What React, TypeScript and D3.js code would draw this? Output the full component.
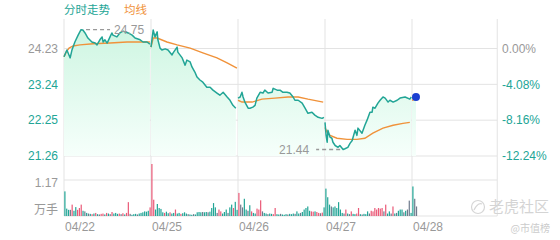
import React from 'react';
import * as d3 from 'd3';

const dayLabels = ['04/22', '04/25', '04/26', '04/27', '04/28'];
const priceTicks = [24.23, 23.24, 22.25, 21.26];
const pctTicks = ['0.00%', '-4.08%', '-8.16%', '-12.24%'];
const prevClose = 24.23;
const volTick = 1.17;

// [minute of session, price]
const day1Price: [number, number][] = [[0,24.00],[8,24.19],[17,23.97],[22,24.19],[30,24.41],[39,24.60],[47,24.75],[52,24.74],[58,24.66],[66,24.52],[77,24.41],[86,24.38],[91,24.33],[99,24.47],[105,24.55],[108,24.41],[113,24.47],[119,24.38],[127,24.55],[132,24.66],[135,24.60],[146,24.55],[154,24.66],[163,24.71],[168,24.69],[177,24.66],[188,24.60],[196,24.52],[210,24.47],[218,24.41],[229,24.41],[237,24.35]];
const day1Avg: [number, number][] = [[0,24.00],[6,24.13],[14,24.24],[25,24.30],[44,24.33],[80,24.36],[127,24.38],[174,24.41],[237,24.41]];
const day2Price: [number, number][] = [[0,24.27],[6,24.74],[11,24.55],[17,24.69],[19,24.47],[25,24.24],[30,24.19],[39,24.22],[47,24.19],[58,24.05],[61,24.11],[72,24.27],[74,24.13],[86,23.97],[94,23.77],[99,23.91],[108,23.86],[113,23.72],[121,23.58],[127,23.44],[135,23.36],[143,23.30],[154,23.16],[163,23.16],[171,23.08],[182,23.00],[190,22.94],[199,23.02],[210,22.89],[218,22.80],[226,22.66],[234,22.58]];
const day2Avg: [number, number][] = [[0,24.27],[6,24.52],[17,24.52],[44,24.41],[72,24.33],[108,24.24],[143,24.11],[182,23.97],[210,23.83],[237,23.69]];
const day3Price: [number, number][] = [[0,22.86],[6,22.89],[11,23.02],[14,22.89],[19,22.75],[28,22.58],[33,22.58],[41,22.61],[47,22.66],[52,22.86],[61,23.02],[69,23.00],[74,23.08],[83,23.00],[94,23.02],[97,23.13],[108,23.08],[116,23.08],[124,23.02],[135,23.02],[143,23.00],[152,22.89],[157,22.80],[166,22.80],[177,22.72],[185,22.58],[193,22.44],[204,22.47],[212,22.39],[221,22.33],[232,22.30],[237,22.33]];
const day3Avg: [number, number][] = [[0,22.80],[11,22.75],[39,22.75],[66,22.83],[102,22.86],[138,22.89],[166,22.89],[193,22.83],[235,22.75]];
const day4Price: [number, number][] = [[0,22.19],[3,21.83],[6,21.64],[8,21.97],[14,21.78],[19,21.75],[22,21.64],[28,21.55],[36,21.50],[41,21.55],[50,21.44],[55,21.46],[63,21.50],[69,21.61],[75,21.69],[83,21.97],[88,21.83],[91,22.03],[102,21.89],[110,22.11],[116,22.25],[124,22.47],[130,22.47],[132,22.61],[138,22.58],[146,22.72],[152,22.80],[160,22.89],[166,22.86],[174,22.75],[179,22.80],[188,22.75],[199,22.80],[207,22.86],[221,22.89],[234,22.83],[238,22.89]];
const day4Avg: [number, number][] = [[0,22.05],[6,21.91],[14,21.83],[33,21.75],[61,21.72],[88,21.72],[110,21.75],[132,21.89],[160,22.03],[188,22.11],[215,22.16],[234,22.19]];
const day5Price: [number, number][] = [[0,22.86],[11,22.89]];
const day5Avg: [number, number][] = [[0,22.80],[11,22.83]];

// volume (万手) per 5-minute bar; u = up (red), d = down (teal), f = flat (grey)
const day1Vol = [.80,.24,.20,.20,.37,.17,.29,.20,.26,.37,.17,.15,.10,.08,.07,.06,.08,.10,.06,.05,.07,.08,.05,.10,.08,.06,.13,.08,.10,.07,.08,.06,.09,.05,.10,.45,.07,.04,.06,.07,.05,.08,.10,.12,.15,.14,.17,.28];
const day1Dir = 'dddfudduuu' + 'dfdfdududf' + 'uududfuddd' + 'ufuduufddd' + 'fddddddu';
const day2Vol = [1.69,.53,.21,.39,.26,.23,.12,.10,.14,.09,.12,.08,.10,.21,.08,.10,.07,.09,.12,.08,.06,.05,.04,.06,.05,.12,.13,.12,.13,.12,.13,.12,.14,.26,.42,.28,.10,.21,.15,.08,.13,.21,.10,.28,.37,.26,.46,.20];
const day2Dir = 'uudddddudd' + 'uddudduddd' + 'fddfddddfd' + 'dfddddfuud' + 'ddfddudd';
const day3Vol = [.75,.37,.28,.56,.21,.17,.35,.15,.10,.08,.24,.21,.51,.15,.10,.08,.06,.08,.07,.06,.26,.06,.05,.07,.05,.04,.06,.05,.07,.06,.08,.07,.15,.08,.10,.13,.21,.26,.31,.17,.15,.14,.15,.13,.10,.09,.11,.28];
const day3Dir = 'uffddfdudd' + 'uuufddfddu' + 'uddfdddfdd' + 'dfddfddddd' + 'uuduufud';
const day4Vol = [.89,.61,.37,.31,.28,.31,.26,.45,.21,.10,.08,.21,.08,.06,.15,.07,.06,.08,.26,.06,.05,.07,.06,.15,.08,.17,.15,.26,.21,.26,.24,.26,.15,.37,.08,.15,.08,.31,.08,.10,.17,.21,.21,.12,.17,.21,.50,.10];
const day4Dir = 'dddfdddddd' + 'fudfudduud' + 'fdddfuuuuu' + 'uufuddfudf' + 'dddfdffd';
const day5Vol = [.96,.56,.31];
const day5Dir = 'dff';

const pricesByDay = [day1Price, day2Price, day3Price, day4Price, day5Price];
const avgByDay = [day1Avg, day2Avg, day3Avg, day4Avg, day5Avg];
const volByDay = [day1Vol, day2Vol, day3Vol, day4Vol, day5Vol];
const dirByDay = [day1Dir, day2Dir, day3Dir, day4Dir, day5Dir];

const TEAL = '#22a596';
const ORANGE = '#f0923a';
const RED = '#ea5a78';
const GREY_BAR = '#6e7a8c';
const GRID = '#e3e3e3';
const TXT = '#999999';
const FONT = '"Liberation Sans", Arial, "Noto Sans CJK SC", sans-serif';
const CJK = '"Noto Sans CJK SC", "Liberation Sans", sans-serif';

export default function App() {
  const SESSION = 240;
  const x = d3.scaleLinear().domain([0, SESSION * 4]).range([64, 412]);
  const xRight = x(SESSION * 4.98);
  const y = d3.scaleLinear().domain([21.26, 24.23]).range([156, 48.5]);
  const plotTop = 19;
  const vy = d3.scaleLinear().domain([0, volTick]).range([216, 180]);

  const line = d3.line<[number, number]>().x(d => d[0]).y(d => d[1]);
  const area = d3.area<[number, number]>().x(d => d[0]).y0(y(21.26)).y1(d => d[1]);

  const toXY = (di: number, arr: [number, number][]) =>
    arr.map(([m, p]) => [x(di * SESSION + m), y(p)] as [number, number]);

  let hi = { v: -Infinity, di: 0, m: 0 };
  let lo = { v: Infinity, di: 0, m: 0 };
  pricesByDay.forEach((arr, di) => arr.forEach(([m, p]) => {
    if (p > hi.v) hi = { v: p, di, m };
    if (p < lo.v) lo = { v: p, di, m };
  }));
  const hiX = x(hi.di * SESSION + hi.m), hiY = y(hi.v);
  const loX = x(lo.di * SESSION + lo.m), loY = y(lo.v);

  const lastDay = pricesByDay.length - 1;
  const lastPt = pricesByDay[lastDay][pricesByDay[lastDay].length - 1];
  const dotX = x(lastDay * SESSION + lastPt[0]);
  const dotY = y(lastPt[1]);

  const barW = 1.2;
  const barStep = 5;

  return (
    <svg width={560} height={240} style={{ position: 'absolute', left: 0, top: 0, background: '#fff' }}>
      <defs>
        <linearGradient id="fillG" gradientUnits="userSpaceOnUse" x1="0" y1="25" x2="0" y2="156">
          <stop offset="0" stopColor="#cdf5e1" />
          <stop offset="1" stopColor="#f6fffb" />
        </linearGradient>
      </defs>

      {/* header */}
      <text x={64} y={14} fontFamily={CJK} fontSize={11.5} fill={TEAL}>分时走势</text>
      <text x={124} y={14} fontFamily={CJK} fontSize={11.5} fill={ORANGE}>均线</text>

      {/* grid */}
      {priceTicks.map(t => (
        <line key={'h' + t} x1={64} x2={xRight} y1={y(t)} y2={y(t)} stroke={GRID} />
      ))}
      <line x1={64} x2={xRight} y1={vy(volTick)} y2={vy(volTick)} stroke={GRID} />
      <line x1={64} x2={xRight} y1={vy(0)} y2={vy(0)} stroke={GRID} />
      {dayLabels.map((d, i) => (
        <line key={'v' + d} x1={x(i * SESSION)} x2={x(i * SESSION)} y1={plotTop} y2={vy(0)} stroke={GRID} />
      ))}
      <line x1={xRight} x2={xRight} y1={plotTop} y2={vy(0)} stroke={GRID} />

      {/* area fills */}
      {pricesByDay.map((arr, di) => (
        <path key={'a' + di} d={area(toXY(di, arr)) || ''} fill="url(#fillG)" />
      ))}

      {/* average lines */}
      {avgByDay.map((arr, di) => (
        <path key={'m' + di} d={line(toXY(di, arr)) || ''} fill="none" stroke={ORANGE} strokeWidth={1.4} />
      ))}
      {/* price lines */}
      {pricesByDay.map((arr, di) => (
        <path key={'p' + di} d={line(toXY(di, arr)) || ''} fill="none" stroke={TEAL} strokeWidth={1.5} strokeLinejoin="round" />
      ))}

      {/* hi / lo labels */}
      <line x1={hiX + 5} x2={hiX + 29} y1={hiY} y2={hiY} stroke={TXT} strokeWidth={1.3} strokeDasharray="4,3" />
      <text x={hiX + 33} y={hiY} dy="0.36em" fontFamily={FONT} fontSize={12} fill={TXT}>{hi.v.toFixed(2)}</text>
      <line x1={loX - 3} x2={loX - 27} y1={loY} y2={loY} stroke={TXT} strokeWidth={1.3} strokeDasharray="4,3" />
      <text x={loX - 34} y={loY} dy="0.36em" textAnchor="end" fontFamily={FONT} fontSize={12} fill={TXT}>{lo.v.toFixed(2)}</text>

      {/* last dot */}
      <circle cx={dotX} cy={dotY} r={4} fill="#1a3fd1" />

      {/* volume bars */}
      {volByDay.map((vals, di) => vals.map((v, i) => {
        const c = dirByDay[di][i];
        const col = c === 'u' ? RED : c === 'd' ? TEAL : GREY_BAR;
        const cx = x(di * SESSION + (i + 0.5) * barStep);
        return <rect key={'b' + di + '-' + i} x={cx - barW / 2} y={vy(v)} width={barW} height={vy(0) - vy(v)} fill={col} />;
      }))}

      {/* left axis */}
      {priceTicks.map((t, i) => (
        <text key={'l' + t} x={58} y={y(t)} dy="0.36em" textAnchor="end" fontFamily={FONT} fontSize={12}
          fill={i === 0 ? TXT : TEAL}>{t.toFixed(2)}</text>
      ))}
      {/* right axis */}
      {pctTicks.map((t, i) => (
        <text key={'r' + t} x={502} y={y(priceTicks[i])} dy="0.36em" fontFamily={FONT} fontSize={12}
          fill={i === 0 ? TXT : TEAL}>{t}</text>
      ))}
      <text x={58} y={vy(volTick) + 2.5} dy="0.36em" textAnchor="end" fontFamily={FONT} fontSize={12} fill={TXT}>{volTick.toFixed(2)}</text>
      <text x={58} y={210} dy="0.36em" textAnchor="end" fontFamily={CJK} fontSize={12} fill={TXT}>万手</text>

      {/* x labels */}
      {dayLabels.map((d, i) => (
        <text key={'x' + d} x={x(i * SESSION) + 1} y={227} dy="0.36em" fontFamily={FONT} fontSize={12} fill={TXT}>{d}</text>
      ))}

      {/* watermark */}
      <circle cx={478} cy={207} r={6.5} fill="none" stroke="#d6d6d6" strokeWidth={1.2} />
      <path d="M474,210 Q478,202 482,204" fill="none" stroke="#d6d6d6" strokeWidth={1.2} />
      <text x={489} y={207} dy="0.36em" fontFamily={CJK} fontSize={15} fill="#d4d4d4">老虎社区</text>
      <text x={550} y={228} dy="0.36em" textAnchor="end" fontFamily={CJK} fontSize={10} fill="#cccccc">@市值榜</text>
    </svg>
  );
}
